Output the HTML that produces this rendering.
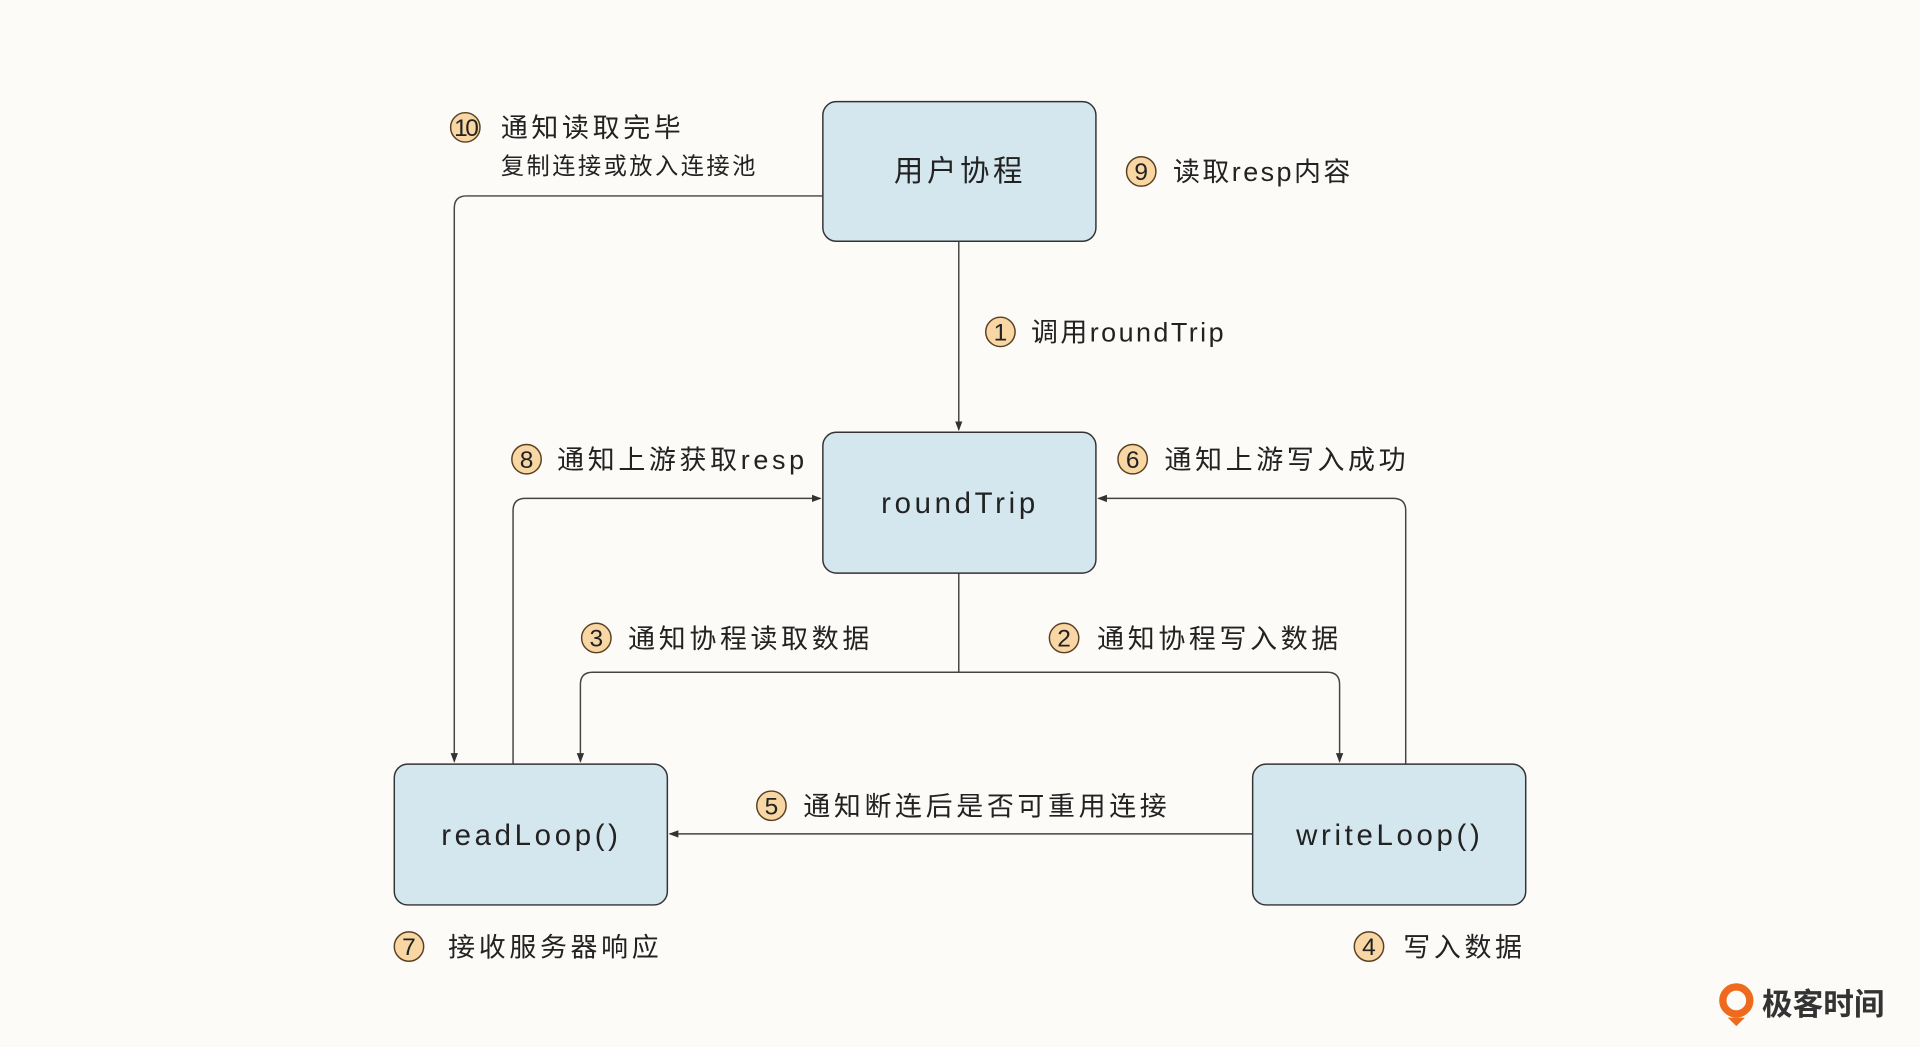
<!DOCTYPE html>
<html><head><meta charset="utf-8"><style>
html,body{margin:0;padding:0;background:#fcfbf8;}
svg{display:block;}
text{font-family:"Liberation Sans","Noto Sans CJK SC",sans-serif;fill:#222;}
.l{font-size:22px;letter-spacing:3px;}
.b{font-size:24px;letter-spacing:3px;}
.n{font-size:20px;}
</style></head><body>
<svg width="1920" height="1047" viewBox="0 0 1568 855" xmlns="http://www.w3.org/2000/svg">
<defs><marker id="a" markerWidth="8" markerHeight="8" refX="7" refY="4" orient="auto" markerUnits="userSpaceOnUse"><path d="M0,1 L8,4 L0,7 z" fill="#333"/></marker></defs>
<rect width="1568" height="855" fill="#fcfbf8"/>
<g fill="none" stroke="#444" stroke-width="1.2">
<path d="M783,197 V351" marker-end="url(#a)"/>
<path d="M672,160 H381 Q371,160 371,170 V622" marker-end="url(#a)"/>
<path d="M783,468 V549 H484 Q474,549 474,559 V622" marker-end="url(#a)"/>
<path d="M783,549 H1084 Q1094,549 1094,559 V622" marker-end="url(#a)"/>
<path d="M419,624 V417 Q419,407 429,407 H670" marker-end="url(#a)"/>
<path d="M1148,624 V417 Q1148,407 1138,407 H897" marker-end="url(#a)"/>
<path d="M1023,681 H547" marker-end="url(#a)"/>
</g>
<g fill="#d4e6ee" stroke="#333" stroke-width="1.2">
<rect x="672" y="83" width="223" height="114" rx="11"/>
<rect x="672" y="353" width="223" height="115" rx="11"/>
<rect x="322" y="624" width="223" height="115" rx="11"/>
<rect x="1023" y="624" width="223" height="115" rx="11"/>
</g>
<text class="b" x="784" y="148" text-anchor="middle">用户协程</text>
<text class="b" x="784" y="419" text-anchor="middle">roundTrip</text>
<text class="b" x="434" y="690" text-anchor="middle">readLoop()</text>
<text class="b" x="1135" y="690" text-anchor="middle">writeLoop()</text>
<g fill="#f8d7a4" stroke="#5a4020" stroke-width="1.2">
<circle cx="380" cy="104" r="12"/><circle cx="932" cy="140" r="12"/>
<circle cx="817" cy="271" r="12"/><circle cx="430" cy="375" r="12"/>
<circle cx="925" cy="375" r="12"/><circle cx="487" cy="521" r="12"/>
<circle cx="869" cy="521" r="12"/><circle cx="630" cy="658" r="12"/>
<circle cx="334" cy="773" r="12"/><circle cx="1118" cy="773" r="12"/>
</g>
<g text-anchor="middle">
<text x="380" y="111" class="n" style="letter-spacing:-2px">10</text>
<text x="932" y="147" class="n">9</text><text x="817" y="278" class="n">1</text>
<text x="430" y="382" class="n">8</text><text x="925" y="382" class="n">6</text>
<text x="487" y="528" class="n">3</text><text x="869" y="528" class="n">2</text>
<text x="630" y="665" class="n">5</text><text x="334" y="780" class="n">7</text>
<text x="1118" y="780" class="n">4</text>
</g>
<text class="l" x="409" y="112">通知读取完毕</text>
<text class="l" x="409" y="142" style="font-size:19px;letter-spacing:2px">复制连接或放入连接池</text>
<text class="l" x="958" y="148" style="letter-spacing:2px">读取resp内容</text>
<text class="l" x="842" y="279" style="letter-spacing:2px">调用roundTrip</text>
<text class="l" x="455" y="383">通知上游获取resp</text>
<text class="l" x="951" y="383">通知上游写入成功</text>
<text class="l" x="513" y="529">通知协程读取数据</text>
<text class="l" x="896" y="529">通知协程写入数据</text>
<text class="l" x="656" y="666">通知断连后是否可重用连接</text>
<text class="l" x="366" y="781">接收服务器响应</text>
<text class="l" x="1146" y="781">写入数据</text>
<circle cx="1418" cy="817" r="11" fill="none" stroke="#ee6a1c" stroke-width="6"/>
<path d="M1411,831 L1425,831 L1418,838 z" fill="#ee6a1c"/>
<text x="1439" y="829" style="font-size:25px;font-weight:bold;fill:#333">极客时间</text>
</svg>
</body></html>
